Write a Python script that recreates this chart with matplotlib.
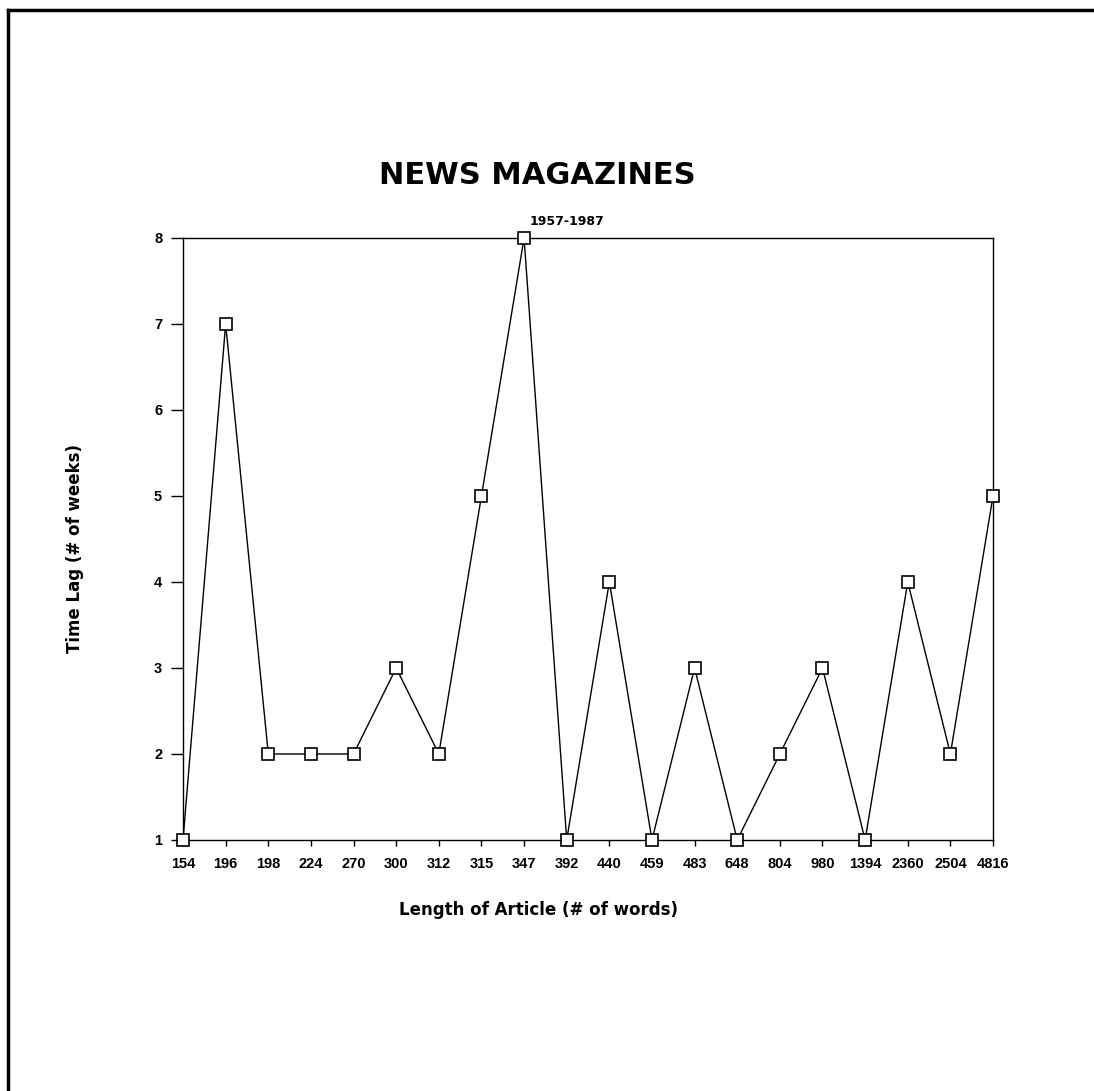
import matplotlib
matplotlib.use("Agg")
import matplotlib.pyplot as plt
from matplotlib.lines import Line2D

categories = ["154", "196", "198", "224", "270", "300", "312", "315", "347", "392",
              "440", "459", "483", "648", "804", "980", "1394", "2360", "2504", "4816"]
time_lag = [1, 7, 2, 2, 2, 3, 2, 5, 8, 1, 4, 1, 3, 1, 2, 3, 1, 4, 2, 5]
y_ticks = [1, 2, 3, 4, 5, 6, 7, 8]

plt.rcParams['font.family'] = ['Liberation Sans Narrow', 'Liberation Sans', 'DejaVu Sans']
plt.rcParams['font.weight'] = 'bold'
wide = ['DejaVu Sans']

fig = plt.figure(figsize=(10.94, 10.91), dpi=100)
ax = fig.add_axes([0.1673, 0.2301, 0.7404, 0.5518])

x = list(range(len(categories)))
ax.plot(x, time_lag, color='black', linewidth=1.0, marker='s', markersize=8,
        markerfacecolor='white', markeredgecolor='black', markeredgewidth=1.2,
        clip_on=False, zorder=3)

ax.set_xlim(0, len(categories) - 1)
ax.set_ylim(1, 8)
ax.set_xticks(x)
ax.set_xticklabels(categories, fontsize=10.5, fontweight='bold')
ax.set_yticks(y_ticks)
ax.set_yticklabels([str(v) for v in y_ticks], fontsize=10.5, fontweight='bold')
ax.tick_params(axis='y', direction='out', length=9, width=1, pad=6)
ax.tick_params(axis='x', direction='out', length=4, width=1, pad=8)
for s in ax.spines.values():
    s.set_linewidth(1.0)

fig.text(0.491, 0.839, "NEWS MAGAZINES", ha='center', va='center',
         fontsize=22, fontweight='bold', family=wide)
fig.text(0.518, 0.797, "1957-1987", ha='center', va='center',
         fontsize=9, fontweight='bold', family=wide)
fig.text(0.492, 0.166, "Length of Article (# of words)", ha='center', va='center',
         fontsize=12, fontweight='bold', family=wide)
fig.text(0.069, 0.497, "Time Lag (# of weeks)", ha='center', va='center',
         rotation=90, fontsize=12, fontweight='bold', family=wide)

# page border (top and left edges of scanned frame)
fig.add_artist(Line2D([0.0075, 0.0075], [0.0, 0.991], transform=fig.transFigure,
                      color='black', linewidth=2.5))
fig.add_artist(Line2D([0.0075, 1.0], [0.991, 0.991], transform=fig.transFigure,
                      color='black', linewidth=2.5))

fig.savefig("out.png", dpi=100, facecolor='white')
